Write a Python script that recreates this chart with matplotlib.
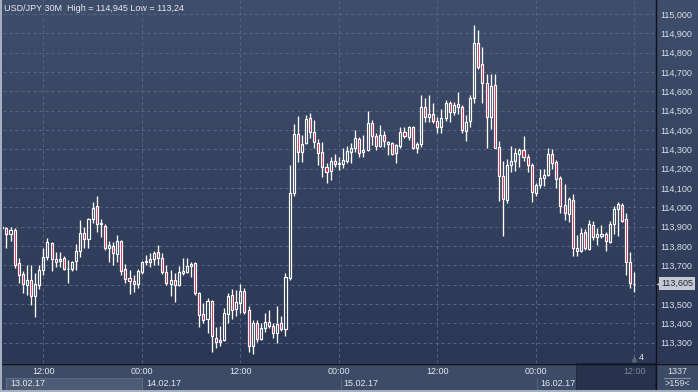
import matplotlib
matplotlib.use('Agg')
import matplotlib.pyplot as plt
import matplotlib.transforms as mtrans
from matplotlib.patches import Rectangle
from matplotlib.collections import LineCollection
import numpy as np

plt.rcParams['font.family'] = ['Liberation Sans', 'DejaVu Sans']

# ---------------- data (USD/JPY 30M candles, 13.02.17 07:00 -> 16.02.17 12:00) -------------
opens = [113.895, 113.892, 113.861, 113.883, 113.711, 113.654, 113.598, 113.624, 113.541, 113.598,
         113.676, 113.745, 113.814, 113.733, 113.722, 113.739, 113.681, 113.680, 113.722, 113.774,
         113.866, 113.835, 113.938, 114.007, 113.912, 113.905, 113.788, 113.800, 113.757, 113.827,
         113.680, 113.633, 113.621, 113.602, 113.667, 113.716, 113.731, 113.733, 113.771, 113.736,
         113.667, 113.602, 113.624, 113.598, 113.662, 113.667, 113.696, 113.711, 113.555, 113.447,
         113.420, 113.515, 113.325, 113.314, 113.314, 113.447, 113.547, 113.473, 113.503, 113.567,
         113.469, 113.284, 113.400, 113.319, 113.374, 113.405, 113.387, 113.348, 113.400, 113.372,
         113.633, 114.076, 114.378, 114.284, 114.331, 114.460, 114.391, 114.331, 114.284, 114.207,
         114.188, 114.238, 114.223, 114.223, 114.241, 114.288, 114.305, 114.353, 114.284, 114.296,
         114.434, 114.369, 114.318, 114.374, 114.327, 114.334, 114.279, 114.317, 114.388, 114.365,
         114.417, 114.308, 114.326, 114.520, 114.466, 114.481, 114.446, 114.414, 114.460, 114.538,
         114.492, 114.533, 114.520, 114.396, 114.448, 114.564, 114.848, 114.740, 114.641, 114.466,
         114.633, 114.310, 114.162, 114.038, 114.219, 114.240, 114.274, 114.296, 114.262, 114.219,
         114.072, 114.115, 114.150, 114.167, 114.274, 114.233, 114.150, 114.012, 113.965, 114.036,
         113.775, 113.775, 113.871, 113.784, 113.908, 113.845, 113.853, 113.861, 113.822, 113.912,
         113.990, 114.012, 113.938, 113.716, 113.603]
highs = [113.910, 113.900, 113.900, 113.892, 113.739, 113.671, 113.702, 113.702, 113.659, 113.702,
         113.788, 113.843, 113.822, 113.771, 113.771, 113.750, 113.728, 113.722, 113.809, 113.935,
         113.900, 113.943, 114.029, 114.059, 113.938, 113.912, 113.827, 113.822, 113.857, 113.831,
         113.706, 113.676, 113.650, 113.680, 113.722, 113.753, 113.762, 113.774, 113.805, 113.762,
         113.702, 113.676, 113.659, 113.698, 113.736, 113.736, 113.719, 113.719, 113.564, 113.503,
         113.529, 113.520, 113.382, 113.385, 113.478, 113.555, 113.576, 113.572, 113.603, 113.581,
         113.491, 113.417, 113.417, 113.400, 113.452, 113.469, 113.402, 113.489, 113.437, 113.659,
         114.219, 114.430, 114.472, 114.374, 114.477, 114.486, 114.452, 114.351, 114.336, 114.228,
         114.259, 114.274, 114.259, 114.308, 114.317, 114.334, 114.400, 114.365, 114.374, 114.498,
         114.452, 114.383, 114.426, 114.395, 114.344, 114.339, 114.327, 114.414, 114.414, 114.420,
         114.422, 114.339, 114.581, 114.564, 114.581, 114.538, 114.469, 114.507, 114.555, 114.550,
         114.546, 114.598, 114.529, 114.477, 114.581, 114.945, 114.917, 114.831, 114.690, 114.690,
         114.690, 114.343, 114.240, 114.249, 114.317, 114.308, 114.308, 114.369, 114.274, 114.231,
         114.124, 114.198, 114.198, 114.308, 114.302, 114.245, 114.162, 114.121, 114.052, 114.069,
         113.857, 113.891, 113.888, 113.934, 113.929, 113.891, 113.909, 113.874, 113.929, 114.007,
         114.029, 114.024, 113.972, 113.768, 113.664]
lows = [113.887, 113.788, 113.827, 113.685, 113.607, 113.555, 113.547, 113.495, 113.433, 113.578,
        113.650, 113.728, 113.669, 113.693, 113.693, 113.676, 113.607, 113.671, 113.676, 113.745,
        113.788, 113.788, 113.917, 113.874, 113.848, 113.779, 113.717, 113.702, 113.719, 113.650,
        113.607, 113.550, 113.564, 113.581, 113.654, 113.702, 113.693, 113.702, 113.702, 113.655,
        113.598, 113.543, 113.512, 113.593, 113.650, 113.659, 113.641, 113.547, 113.379, 113.400,
        113.348, 113.253, 113.270, 113.285, 113.310, 113.400, 113.422, 113.437, 113.452, 113.448,
        113.253, 113.240, 113.305, 113.314, 113.357, 113.377, 113.322, 113.299, 113.360, 113.336,
        113.624, 114.059, 114.236, 114.236, 114.327, 114.357, 114.305, 114.219, 114.156, 114.128,
        114.141, 114.207, 114.193, 114.203, 114.231, 114.231, 114.288, 114.262, 114.262, 114.293,
        114.322, 114.296, 114.310, 114.313, 114.270, 114.270, 114.228, 114.305, 114.357, 114.348,
        114.302, 114.279, 114.313, 114.443, 114.443, 114.438, 114.383, 114.386, 114.446, 114.443,
        114.477, 114.482, 114.383, 114.344, 114.417, 114.542, 114.714, 114.538, 114.308, 114.405,
        114.305, 114.034, 113.853, 114.024, 114.181, 114.189, 114.210, 114.241, 114.184, 114.029,
        114.060, 114.098, 114.112, 114.162, 114.198, 114.098, 113.972, 113.934, 113.925, 113.750,
        113.750, 113.767, 113.779, 113.779, 113.831, 113.805, 113.841, 113.775, 113.817, 113.862,
        113.851, 113.922, 113.650, 113.584, 113.560]
closes = [113.900, 113.861, 113.883, 113.702, 113.650, 113.602, 113.624, 113.541, 113.602, 113.676,
          113.742, 113.819, 113.731, 113.719, 113.733, 113.680, 113.679, 113.716, 113.774, 113.866,
          113.835, 113.938, 113.998, 113.912, 113.917, 113.788, 113.805, 113.762, 113.826, 113.672,
          113.628, 113.621, 113.602, 113.671, 113.716, 113.724, 113.719, 113.765, 113.736, 113.663,
          113.607, 113.624, 113.598, 113.667, 113.671, 113.696, 113.707, 113.555, 113.443, 113.417,
          113.515, 113.334, 113.301, 113.301, 113.452, 113.541, 113.469, 113.509, 113.567, 113.460,
          113.284, 113.400, 113.319, 113.374, 113.408, 113.387, 113.348, 113.395, 113.372, 113.638,
          114.072, 114.378, 114.284, 114.327, 114.455, 114.391, 114.337, 114.279, 114.207, 114.181,
          114.240, 114.223, 114.231, 114.243, 114.291, 114.305, 114.357, 114.279, 114.296, 114.434,
          114.369, 114.318, 114.374, 114.343, 114.336, 114.274, 114.322, 114.388, 114.370, 114.414,
          114.305, 114.326, 114.520, 114.466, 114.481, 114.446, 114.414, 114.460, 114.538, 114.492,
          114.529, 114.520, 114.400, 114.443, 114.564, 114.848, 114.727, 114.641, 114.469, 114.627,
          114.308, 114.162, 114.041, 114.219, 114.240, 114.279, 114.296, 114.259, 114.219, 114.078,
          114.115, 114.150, 114.167, 114.274, 114.228, 114.145, 114.008, 113.969, 114.043, 113.788,
          113.788, 113.866, 113.788, 113.912, 113.845, 113.861, 113.861, 113.827, 113.912, 113.990,
          114.017, 113.931, 113.716, 113.607, 113.605]

time_tick_idx = [10, 34, 58, 82, 106, 130, 154]
time_tick_labels = ['12:00', '00:00', '12:00', '00:00', '12:00', '00:00', '12:00']
date_idx = [0, 34, 82, 130]
date_labels = ['13.02.17', '14.02.17', '15.02.17', '16.02.17']
price_ticks = [113.3, 113.4, 113.5, 113.6, 113.7, 113.8, 113.9, 114.0, 114.1,
               114.2, 114.3, 114.4, 114.5, 114.6, 114.7, 114.8, 114.9, 115.0]
title = 'USD/JPY 30M  High = 114,945 Low = 113,24'

# ---------------- figure ----------------
W, H = 698, 392
fig = plt.figure(figsize=(W / 100, H / 100), dpi=100)
fig.patch.set_facecolor('#3d4a65')
bg = fig.add_axes([0, 0, 1, 1])
bg.set_xlim(0, W)
bg.set_ylim(H, 0)
bg.axis('off')

top_c = np.array([0x3f, 0x4e, 0x6a]) / 255
bot_c = np.array([0x2b, 0x37, 0x55]) / 255
t = np.linspace(0, 1, 256)[:, None]
grad = (top_c[None, :] * (1 - t) + bot_c[None, :] * t)[:, None, :]
bg.imshow(grad, extent=(0, W, 363, 0), aspect='auto', interpolation='bilinear', zorder=0)

# bottom panel
bg.add_patch(Rectangle((0, 363), W, 29, fc='#3e4b66', ec='none', zorder=1))
bg.add_patch(Rectangle((6, 377.5), 136, 12, fc='#4e5b75', ec='#606d86', lw=0.7, zorder=2))
for xs in [340.5, 536.5]:
    bg.plot([xs, xs], [377.5, 390], color='#56637c', lw=0.7, zorder=2)
bg.add_patch(Rectangle((575.5, 363), 79.5, 27, fc='#28324d', ec='#1f2940', lw=0.7, zorder=2))
# borders
bg.add_patch(Rectangle((0, 0), 2.2, H, fc='#a7b0c0', ec='none', zorder=5))
bg.add_patch(Rectangle((0, 390), W, 2, fc='#a7b0c0', ec='none', zorder=5))
bg.plot([2, W], [363.5, 363.5], color='#0d111a', lw=1.0, zorder=4)
bg.plot([655.5, 655.5], [0, 390], color='#0d111a', lw=1.0, zorder=4)
# corner counters
bg.text(677, 371, '1337', color='#d9dee8', fontsize=6.5, ha='center', va='center', zorder=6)
bg.plot([664, 690], [377.5, 377.5], color='#8a93a6', lw=0.7, zorder=6)
bg.text(677, 384, '>159<', color='#d9dee8', fontsize=6.5, ha='center', va='center', zorder=6)
# title
bg.text(4, 8.5, title, color='#e6eaf2', fontsize=6.5, ha='left', va='center', zorder=6)

# ---------------- main price axes ----------------
ax = fig.add_axes([3 / W, (H - 363) / H, 652 / W, 363 / H])
ax.patch.set_alpha(0)
ax.set_xlim(0.17, 159.04)
ax.set_ylim(113.1945, 115.0724)
for s in ax.spines.values():
    s.set_visible(False)

grid_c = '#56647f'
for p in price_ticks:
    ax.axhline(p, color=grid_c, lw=0.72, ls=(0, (3, 3)), zorder=1)
for ti in time_tick_idx:
    ax.axvline(ti, color=grid_c, lw=0.72, ls=(0, (3, 3)), zorder=1)

last = closes[-1]
ax.yaxis.tick_right()
ax.set_yticks(price_ticks)
# the tick label hidden behind the last-price box is left blank
ax.set_yticklabels(['' if abs(p - last) < 0.05 else f'{p:.3f}'.replace('.', ',')
                    for p in price_ticks])
ax.tick_params(axis='y', length=0, pad=3.5, labelsize=6.5, labelcolor='#d9dee8')
ax.set_xticks([])

# candles
o = np.array(opens); h = np.array(highs); l = np.array(lows); c = np.array(closes)
idx = np.arange(len(o))
top = np.maximum(o, c)
bot = np.minimum(o, c)
segs = []
for i in idx:
    segs.append([(i, top[i]), (i, h[i])])
    segs.append([(i, bot[i]), (i, l[i])])
ax.add_collection(LineCollection(segs, colors='white', linewidths=0.95, zorder=3))
bw = 0.5
for i in idx:
    up = c[i] >= o[i]
    fc = 'none' if up else '#e0143c'
    ax.add_patch(Rectangle((i - bw / 2, bot[i]), bw, max(top[i] - bot[i], 0.0005),
                           fc=fc, ec='white', lw=0.85, zorder=4))

# bottom time labels
tx = mtrans.blended_transform_factory(ax.transData, bg.transData)
for k, (ti, lab) in enumerate(zip(time_tick_idx, time_tick_labels)):
    col = '#7c869a' if k == len(time_tick_idx) - 1 else '#e3e7ef'
    bg.text(ti, 371.5, lab, transform=tx, color=col, fontsize=6.5, ha='center', va='center',
            zorder=6, clip_on=False)
for k, (di, lab) in enumerate(zip(date_idx, date_labels)):
    off = 1.9 if k == 0 else 1.2
    bg.text(di + off, 383.5, lab, transform=tx, color='#e3e7ef', fontsize=6.5,
            ha='left', va='center', zorder=6, clip_on=False)

# indicator "4"
bg.text(641, 357, '4', color='#e3e7ef', fontsize=6.5, ha='center', va='center', zorder=6)
bg.plot([634], [358.5], marker='^', ms=3, color='#5b6579', zorder=6)

# last price marker
py = mtrans.blended_transform_factory(bg.transData, ax.transData)
bg.plot([659.5], [last], marker='<', ms=6, color='#c6cad3', transform=py, clip_on=False, zorder=7,
        mec='none')
bg.text(661, last, f'{last:.3f}'.replace('.', ','), transform=py, color='#1d2638', fontsize=6.5,
        ha='left', va='center', zorder=8, clip_on=False,
        bbox=dict(boxstyle='square,pad=0.2', fc='#c6cad3', ec='none'))

fig.savefig('out.png', dpi=100)
